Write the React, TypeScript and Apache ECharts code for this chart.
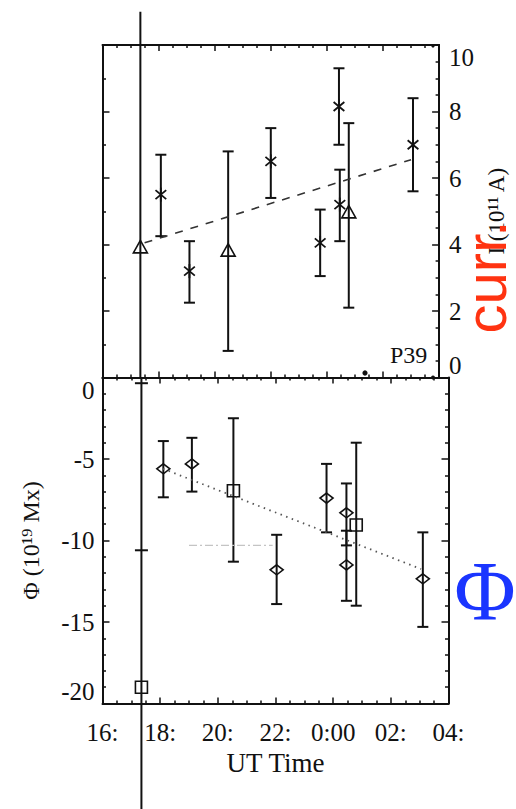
import React, { useEffect, useRef } from "react";
import * as echarts from "echarts";

// ---------- data ----------
const xTickLabels: Record<number, string> = { 16: "16:", 18: "18:", 20: "20:", 22: "22:", 24: "0:00", 26: "02:", 28: "04:" };

// Current I (top panel), asterisks
const curStarTime = [18.08, 19.1, 22.0, 23.76, 24.43, 24.46, 27.07];
const curStarVal = [5.5, 3.2, 6.5, 4.05, 8.15, 5.2, 7.0];
const curStarLo = [4.25, 2.25, 5.4, 3.05, 7.0, 4.1, 5.6];
const curStarHi = [6.7, 4.1, 7.5, 5.05, 9.3, 6.25, 8.4];

// Current I, triangles
const curTriTime = [17.35, 20.48, 24.78];
const curTriVal = [3.9, 3.8, 4.95];
const curTriLo = [null, 0.8, 2.1];
const curTriHi = [null, 6.8, 7.65];

// Current fit (dashed)
const curFitTime = [17.5, 27.0];
const curFitVal = [4.05, 6.55];

// Flux Phi (bottom panel), diamonds
const fluxDiaTime = [18.11, 19.1, 22.04, 23.77, 24.46, 24.46, 27.11];
const fluxDiaVal = [-5.6, -5.3, -11.8, -7.4, -8.3, -11.5, -12.35];
const fluxDiaLo = [-7.35, -7.0, -13.9, -9.5, -10.3, -13.7, -15.3];
const fluxDiaHi = [-3.9, -3.7, -9.65, -5.3, -6.5, -9.4, -9.5];

// Flux Phi, squares
const fluxSqTime = [17.35, 20.54, 24.8];
const fluxSqVal = [-19.0, -6.95, -9.05];
const fluxSqLo = [null, -11.3, -14.0];
const fluxSqHi = [null, -2.5, -4.0];

// Flux fit (dotted) and faint grey line
const fluxFitTime = [18.1, 27.05];
const fluxFitVal = [-5.6, -11.75];
const greyTime = [19.0, 21.9];
const greyVal = [-10.3, -10.3];

// Vertical marker line
const markerTime = 17.35;
const markerTopVal = 11.0;
const markerBottomVal = -26.5;
const markerCapVals = [-0.35, -10.6];

// ---------- helpers ----------
const INK = "#111";
const SERIF = "'Liberation Serif', 'Times New Roman', serif";

function rows(t: number[], v: number[], lo: (number | null)[], hi: (number | null)[]) {
  return t.map((x, i) => [x, v[i], lo[i] == null ? v[i] : lo[i], hi[i] == null ? v[i] : hi[i]]);
}

function markerShape(kind: string, cx: number, cy: number): any[] {
  const st = { stroke: INK, lineWidth: 1.6, fill: "none" };
  if (kind === "star") {
    const r = 7;
    const out: any[] = [];
    const angs = [90, 40, -40];
    angs.forEach((a) => {
      const rad = (a * Math.PI) / 180;
      const dx = Math.cos(rad) * r, dy = Math.sin(rad) * r;
      out.push({ type: "line", shape: { x1: cx - dx, y1: cy - dy, x2: cx + dx, y2: cy + dy }, style: { stroke: INK, lineWidth: 1.8 } });
    });
    return out;
  }
  if (kind === "tri") {
    return [{ type: "polygon", shape: { points: [[cx, cy - 7.5], [cx - 7, cy + 5], [cx + 7, cy + 5]] }, style: st }];
  }
  if (kind === "dia") {
    return [{ type: "polygon", shape: { points: [[cx, cy - 5], [cx + 6.5, cy], [cx, cy + 5], [cx - 6.5, cy]] }, style: st }];
  }
  return [{ type: "rect", shape: { x: cx - 6, y: cy - 6, width: 12, height: 12 }, style: st }];
}

function errRender(kind: string) {
  return (params: any, api: any) => {
    const x = api.value(0), y = api.value(1), lo = api.value(2), hi = api.value(3);
    const c = api.coord([x, y]);
    const children: any[] = [];
    if (lo !== hi) {
      const a = api.coord([x, lo]);
      const b = api.coord([x, hi]);
      const ls = { stroke: INK, lineWidth: 2 };
      children.push({ type: "line", shape: { x1: a[0], y1: a[1], x2: b[0], y2: b[1] }, style: ls });
      children.push({ type: "line", shape: { x1: a[0] - 5.5, y1: a[1], x2: a[0] + 5.5, y2: a[1] }, style: ls });
      children.push({ type: "line", shape: { x1: b[0] - 5.5, y1: b[1], x2: b[0] + 5.5, y2: b[1] }, style: ls });
    }
    markerShape(kind, c[0], c[1]).forEach((m) => children.push(m));
    return { type: "group", children };
  };
}

const axisLineStyle = { color: INK, width: 2 };
const tickStyle = { color: INK, width: 1.5 };

function xAx(grid: number, pos: string, labels: boolean): any {
  return {
    type: "value", gridIndex: grid, position: pos, min: 16, max: 28, interval: 2,
    axisLine: { show: true, onZero: false, lineStyle: axisLineStyle },
    axisTick: { show: true, inside: true, length: 6, lineStyle: tickStyle },
    minorTick: { show: true, splitNumber: 4, length: 3, lineStyle: tickStyle },
    splitLine: { show: false },
    axisLabel: labels
      ? { show: true, margin: 16, fontFamily: SERIF, fontSize: 25, color: INK, formatter: (v: number) => xTickLabels[v] ?? "" }
      : { show: false },
  };
}

function yAx(grid: number, pos: string, min: number, max: number, interval: number, minor: number, labels: any): any {
  return {
    type: "value", gridIndex: grid, position: pos, min, max, interval,
    axisLine: { show: true, onZero: false, lineStyle: axisLineStyle },
    axisTick: { show: true, inside: true, length: 7, lineStyle: tickStyle },
    minorTick: { show: true, splitNumber: minor, length: 3.5, lineStyle: tickStyle },
    splitLine: { show: false },
    axisLabel: labels
      ? { show: true, fontFamily: SERIF, fontSize: 25, color: INK, verticalAlignMinLabel: "bottom", verticalAlignMaxLabel: "top", ...labels }
      : { show: false },
  };
}

export default function App() {
  const ref = useRef<HTMLDivElement>(null);
  useEffect(() => {
    document.body.style.margin = "0";
    if (!ref.current) return;
    const chart = echarts.init(ref.current, null, { renderer: "svg" });

    const yTop = yAx(0, "right", 0, 10, 2, 4, { margin: 10 });
    yTop.name = "I (10¹¹ A)";
    yTop.nameLocation = "middle";
    yTop.nameRotate = 90;
    yTop.nameGap = 42;
    yTop.nameTextStyle = { fontFamily: SERIF, fontSize: 23, color: INK };

    const yBot = yAx(1, "left", -20, 0, 5, 5, { margin: 8 });
    yBot.name = "Φ (10¹⁹ Mx)";
    yBot.nameLocation = "middle";
    yBot.nameRotate = 90;
    yBot.nameGap = 60;
    yBot.nameTextStyle = { fontFamily: SERIF, fontSize: 24, color: INK };

    const xBot = xAx(1, "bottom", true);
    xBot.name = "UT Time";
    xBot.nameLocation = "middle";
    xBot.nameGap = 46;
    xBot.nameTextStyle = { fontFamily: SERIF, fontSize: 27, color: INK };

    chart.setOption({
      animation: false,
      backgroundColor: "#fff",
      grid: [
        { left: 102.5, top: 45, width: 346, height: 332.5 },
        { left: 102.5, top: 377.5, width: 346, height: 326 },
      ],
      xAxis: [xAx(0, "bottom", false), xAx(0, "top", false), xBot, xAx(1, "top", false)],
      yAxis: [yTop, yAx(0, "left", 0, 10, 2, 2, null), yBot, yAx(1, "right", -20, 0, 5, 5, null)],
      series: [
        {
          type: "line", xAxisIndex: 0, yAxisIndex: 0, symbol: "none", silent: true,
          data: curFitTime.map((t, i) => [t, curFitVal[i]]),
          lineStyle: { color: "#333", width: 1.6, type: [8, 8] },
        },
        {
          type: "line", xAxisIndex: 2, yAxisIndex: 2, symbol: "none", silent: true,
          data: fluxFitTime.map((t, i) => [t, fluxFitVal[i]]),
          lineStyle: { color: "#555", width: 1.8, type: [1.5, 4.5] },
        },
        {
          type: "line", xAxisIndex: 2, yAxisIndex: 2, symbol: "none", silent: true,
          data: greyTime.map((t, i) => [t, greyVal[i]]),
          lineStyle: { color: "#c4c4c4", width: 1.2, type: [8, 3, 2, 3] },
        },
        {
          type: "custom", xAxisIndex: 0, yAxisIndex: 0, clip: false, silent: true,
          data: [[markerTime, markerTopVal, 0]],
          renderItem: (p: any, api: any) => {
            const a = api.coord([api.value(0), api.value(1)]);
            const b = api.coord([api.value(0), api.value(2)]);
            return { type: "line", shape: { x1: a[0], y1: a[1], x2: b[0], y2: b[1] }, style: { stroke: INK, lineWidth: 2 } };
          },
        },
        {
          type: "custom", xAxisIndex: 2, yAxisIndex: 2, clip: false, silent: true,
          data: [[markerTime, 0, markerBottomVal]],
          renderItem: (p: any, api: any) => {
            const a = api.coord([api.value(0), api.value(1)]);
            const b = api.coord([api.value(0), api.value(2)]);
            return { type: "line", shape: { x1: a[0], y1: a[1], x2: b[0], y2: b[1] }, style: { stroke: INK, lineWidth: 2 } };
          },
        },
        {
          type: "custom", xAxisIndex: 2, yAxisIndex: 2, clip: false, silent: true,
          data: markerCapVals.map((v) => [markerTime, v]),
          renderItem: (p: any, api: any) => {
            const a = api.coord([api.value(0), api.value(1)]);
            return { type: "line", shape: { x1: a[0] - 6.5, y1: a[1], x2: a[0] + 6.5, y2: a[1] }, style: { stroke: INK, lineWidth: 2 } };
          },
        },
        {
          type: "custom", name: "I asterisk", xAxisIndex: 0, yAxisIndex: 0, clip: false,
          data: rows(curStarTime, curStarVal, curStarLo, curStarHi),
          encode: { x: 0, y: 1 }, renderItem: errRender("star"),
        },
        {
          type: "custom", name: "I triangle", xAxisIndex: 0, yAxisIndex: 0, clip: false,
          data: rows(curTriTime, curTriVal, curTriLo, curTriHi),
          encode: { x: 0, y: 1 }, renderItem: errRender("tri"),
        },
        {
          type: "custom", name: "Phi diamond", xAxisIndex: 2, yAxisIndex: 2, clip: false,
          data: rows(fluxDiaTime, fluxDiaVal, fluxDiaLo, fluxDiaHi),
          encode: { x: 0, y: 1 }, renderItem: errRender("dia"),
        },
        {
          type: "custom", name: "Phi square", xAxisIndex: 2, yAxisIndex: 2, clip: false,
          data: rows(fluxSqTime, fluxSqVal, fluxSqLo, fluxSqHi),
          encode: { x: 0, y: 1 }, renderItem: errRender("sq"),
        },
      ],
      graphic: [
        { type: "text", x: 390, y: 355, style: { text: "P39", fontFamily: SERIF, fontSize: 24, fill: INK, align: "left", verticalAlign: "middle" } },
        { type: "circle", shape: { cx: 365, cy: 373, r: 2.6 }, style: { fill: INK } },
        { type: "circle", shape: { cx: 433, cy: 377.5, r: 2 }, style: { fill: INK } },
        { type: "circle", shape: { cx: 433, cy: 46, r: 1.6 }, style: { fill: INK } },
        {
          type: "text", x: 485, y: 277, rotation: Math.PI / 2, z: 10,
          style: { text: "curr.", fontFamily: "'Liberation Sans', Arial, sans-serif", fontSize: 58, lineHeight: 56, fill: "#ff3311", align: "center", verticalAlign: "middle" },
        },
        {
          type: "text", x: 485, y: 591, z: 10,
          style: { text: "Φ", fontFamily: SERIF, fontSize: 84, fill: "#1a35ff", align: "center", verticalAlign: "middle" },
        },
      ],
    });
    return () => chart.dispose();
  }, []);
  return <div ref={ref} style={{ width: 516, height: 809 }} />;
}
